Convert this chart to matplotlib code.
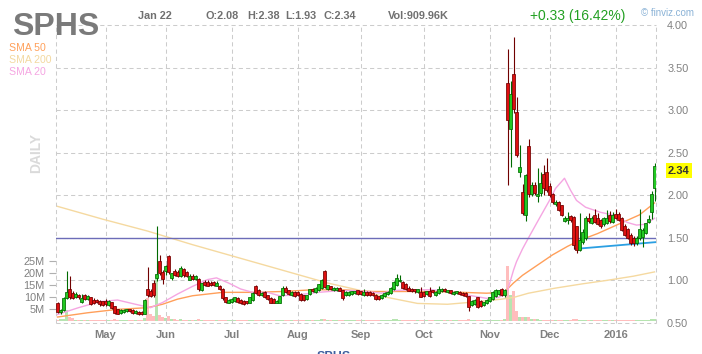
import matplotlib
matplotlib.use("Agg")
import matplotlib.pyplot as plt
import numpy as np
import pandas as pd

plt.rcParams['font.family'] = ['Liberation Sans', 'DejaVu Sans']

# ---------------- data ----------------
ticker = "SPHS"
holidays = ["2015-05-25", "2015-07-03", "2015-09-07", "2015-11-26",
            "2015-12-25", "2016-01-01", "2016-01-18"]
dates = pd.bdate_range("2015-04-09", "2016-01-22", freq="C", holidays=holidays)

opens = [.735, .63, .65, .79, .90, .85, .80, .83, .75, .82,
         .78, .80, .77, .77, .76, .75, .76, .71, .74, .69,
         .66, .62, .63, .64, .66, .65, .62, .63, .63, .61,
         .89, .87, .97, 1.03, 1.22, 1.09, 1.11, 1.28, 1.03, 1.11,
         1.10, 1.05, 1.13, 1.10, 1.01, 1.05, 1.02, 1.01, .89, .98,
         .98, .97, .98, .94, .93, .90, .80, .74, .75, .76,
         .79, .77, .76, .75, .74, .77, .93, .88, .83, .86,
         .82, .79, .78, .74, .74, .83, .91, .88, .83, .86,
         .86, .84, .82, .78, .84, .90, .86, .89, .91, 1.11,
         .90, .93, .89, .89, .91, .88, .83, .83, .84, .85,
         .88, .87, .83, .86, .86, .85, .83, .81, .79, .82,
         .84, .85, .90, .95, .99, .98, .95, .91, .90, .89,
         .86, .86, .86, .84, .87, .88, .83, .85, .87, .90,
         .86, .88, .84, .85, .86, .85, .85, .81, .71, .72,
         .80, .76, .71, .73, .76, .78, .82, .84, .89, .83,
         3.31, 2.78, 3.42, 2.98, 2.27, 2.04, 1.77, 2.58, 2.01, 2.12,
         1.99, 2.03, 2.25, 2.27, 2.10, 2.01, 1.90, 1.92, 1.88, 1.70,
         1.71, 1.75, 1.74, 1.63, 1.36, 1.45, 1.50, 1.73, 1.68, 1.77,
         1.73, 1.70, 1.66, 1.68, 1.77, 1.69, 1.78, 1.78, 1.73, 1.63,
         1.60, 1.53, 1.50, 1.44, 1.50, 1.51, 1.56, 1.69, 1.80, 2.08]

highs = [.75, .67, .80, 1.11, 1.05, .88, .86, .84, .84, .84,
         .83, .81, .79, .78, .77, .76, .78, .77, .75, .70,
         .67, .66, .66, .67, .67, .66, .65, .64, .64, .78,
         1.16, .90, 1.00, 1.64, 1.30, 1.12, 1.18, 1.30, 1.09, 1.13,
         1.12, 1.17, 1.15, 1.11, 1.08, 1.07, 1.06, 1.03, .97, 1.00,
         1.00, .99, .99, .99, .95, .91, .81, .78, .79, .81,
         .80, .78, .77, .76, .81, .86, .95, .90, .86, .88,
         .83, .80, .79, .77, .82, .93, .93, .89, .87, .87,
         .87, .85, .83, .83, .90, .91, .92, .96, 1.02, 1.12,
         .95, .94, .92, .92, .92, .89, .87, .87, .88, .88,
         .89, .88, .90, .87, .87, .86, .84, .82, .84, .86,
         .88, .92, .99, 1.08, 1.06, .99, .97, .93, .91, .90,
         .90, .92, .87, .88, .92, .89, .87, .94, .91, .91,
         .89, .89, .87, .88, .87, .86, .86, .82, .77, .78,
         .81, .77, .75, .78, .81, .87, .90, .89, .91, .90,
         3.72, 3.34, 3.86, 3.15, 2.59, 2.13, 2.25, 2.66, 2.16, 2.16,
         2.32, 2.27, 2.36, 2.44, 2.14, 2.03, 1.94, 1.93, 1.89, 1.76,
         1.80, 1.77, 1.76, 1.64, 1.79, 1.60, 1.76, 1.79, 1.76, 1.84,
         1.79, 1.72, 1.75, 1.83, 1.82, 1.80, 1.84, 1.80, 1.75, 1.66,
         1.62, 1.56, 1.52, 1.52, 1.84, 1.62, 1.68, 1.77, 2.05, 2.38]

lows = [.62, .61, .64, .78, .78, .78, .79, .78, .74, .77,
        .77, .71, .72, .73, .70, .70, .70, .70, .67, .61,
        .60, .61, .62, .63, .63, .61, .61, .59, .59, .60,
        .80, .80, .81, .99, 1.06, .96, 1.06, 1.08, 1.00, 1.05,
        1.04, 1.04, 1.04, 1.04, 1.00, 1.01, 1.00, .88, .88, .94,
        .93, .94, .94, .93, .89, .77, .74, .73, .74, .75,
        .74, .72, .71, .72, .73, .76, .84, .82, .82, .79,
        .77, .73, .73, .73, .73, .82, .85, .83, .82, .81,
        .82, .76, .76, .77, .83, .86, .85, .88, .90, .91,
        .89, .89, .88, .88, .87, .77, .82, .82, .83, .84,
        .83, .83, .82, .82, .82, .82, .77, .77, .78, .81,
        .83, .84, .89, .94, .98, .90, .89, .87, .86, .85,
        .85, .80, .81, .83, .80, .85, .82, .84, .86, .86,
        .85, .84, .83, .84, .83, .82, .81, .64, .70, .71,
        .68, .69, .70, .72, .75, .77, .81, .83, .82, .80,
        2.12, 2.33, 2.97, 2.45, 2.21, 1.77, 1.70, 1.98, 1.99, 2.00,
        1.92, 1.99, 2.00, 2.04, 1.98, 1.90, 1.88, 1.82, 1.76, 1.69,
        1.66, 1.69, 1.37, 1.32, 1.35, 1.43, 1.48, 1.68, 1.66, 1.68,
        1.65, 1.62, 1.64, 1.66, 1.68, 1.68, 1.72, 1.70, 1.58, 1.52,
        1.49, 1.42, 1.40, 1.42, 1.48, 1.39, 1.55, 1.67, 1.72, 1.93]

closes = [.63, .65, .79, .86, .80, .79, .84, .80, .79, .78,
          .81, .72, .74, .75, .72, .71, .72, .76, .68, .62,
          .61, .65, .65, .66, .64, .62, .64, .60, .60, .77,
          .83, .82, .83, 1.07, 1.09, 1.02, 1.16, 1.10, 1.08, 1.06,
          1.05, 1.14, 1.06, 1.05, 1.05, 1.02, 1.05, .90, .96, .95,
          .94, .95, .95, .96, .90, .79, .75, .77, .78, .80,
          .75, .73, .72, .73, .80, .85, .85, .83, .85, .80,
          .78, .74, .74, .76, .81, .91, .86, .84, .86, .82,
          .83, .77, .77, .82, .89, .87, .91, .95, 1.00, .92,
          .94, .90, .91, .91, .88, .79, .86, .86, .87, .87,
          .84, .84, .86, .83, .83, .83, .78, .78, .83, .85,
          .86, .91, .98, 1.02, 1.00, .91, .90, .88, .87, .87,
          .89, .81, .82, .87, .82, .86, .86, .90, .90, .87,
          .88, .85, .86, .87, .84, .83, .82, .69, .76, .77,
          .69, .70, .74, .77, .80, .86, .88, .88, .83, .88,
          2.88, 3.19, 3.01, 2.47, 2.33, 1.79, 2.24, 2.01, 2.12, 2.03,
          2.01, 2.14, 2.09, 2.06, 2.00, 1.92, 1.92, 1.83, 1.77, 1.73,
          1.73, 1.71, 1.42, 1.36, 1.47, 1.56, 1.73, 1.70, 1.73, 1.69,
          1.66, 1.64, 1.73, 1.73, 1.70, 1.77, 1.73, 1.71, 1.59, 1.53,
          1.50, 1.44, 1.44, 1.49, 1.60, 1.59, 1.67, 1.72, 2.01, 2.34]

volumes_m = [0.6, 0.8, 1.0, 4.6, 1.7, 1.2, 0.6, 0.5, 0.5, 0.4,
             0.4, 0.6, 0.4, 0.3, 0.4, 0.4, 0.5, 0.3, 0.6, 0.7,
             0.4, 0.3, 0.3, 0.3, 0.3, 0.3, 0.3, 0.3, 0.3, 1.2,
             9.5, 3.0, 2.0, 17.5, 2.5, 1.8, 1.2, 2.0, 1.0, 0.8,
             0.6, 0.7, 0.6, 0.5, 0.4, 0.4, 0.4, 0.8, 0.5, 0.4,
             0.4, 0.3, 0.3, 0.3, 0.3, 0.6, 0.5, 0.4, 0.4, 0.4,
             0.4, 0.3, 0.3, 0.3, 0.4, 0.5, 0.6, 0.4, 0.3, 0.4,
             0.3, 0.3, 0.3, 0.3, 0.4, 0.6, 0.5, 0.3, 0.3, 0.3,
             0.3, 0.4, 0.3, 0.3, 0.4, 0.3, 0.4, 0.5, 0.8, 1.0,
             0.5, 0.4, 0.3, 0.3, 0.3, 0.5, 0.3, 0.3, 0.3, 0.3,
             0.3, 0.3, 0.4, 0.3, 0.3, 0.3, 0.4, 0.3, 0.3, 0.4,
             0.4, 0.6, 1.0, 1.0, 0.6, 0.5, 0.4, 0.3, 0.3, 0.3,
             0.3, 0.5, 0.4, 0.3, 0.5, 0.3, 0.3, 0.4, 0.3, 0.3,
             0.3, 0.3, 0.3, 0.3, 0.3, 0.3, 0.3, 0.8, 0.5, 0.4,
             0.6, 0.4, 0.3, 0.4, 0.4, 0.6, 0.5, 0.4, 0.6, 0.8,
             23.0, 11.0, 12.5, 4.0, 1.8, 1.8, 1.7, 1.8, 0.8, 0.7,
             0.8, 0.6, 0.6, 0.6, 0.5, 0.4, 0.4, 0.4, 0.4, 0.3,
             0.3, 0.4, 0.8, 0.8, 0.6, 0.4, 0.4, 0.3, 0.3, 0.3,
             0.3, 0.3, 0.3, 0.3, 0.3, 0.3, 0.3, 0.3, 0.4, 0.4,
             0.4, 0.5, 0.4, 0.3, 0.4, 0.4, 0.4, 0.5, 0.7, 0.91]

# moving averages at sample days (index of trading day)
sma20_day = [0, 7, 14, 20, 26, 31, 35, 40, 45, 50, 53, 57, 61, 65, 70, 74, 80, 87,
             94, 100, 108, 112, 117, 125, 132, 138, 143, 147, 149, 150, 151, 152,
             153, 155, 157, 160, 164, 166, 169, 171, 173, 176, 181, 185, 190, 193,
             196, 199]
sma20_val = [0.60, 0.68, 0.75, 0.77, 0.72, 0.68, 0.74, 0.84, 0.93, 1.01, 1.03, 0.97,
             0.90, 0.86, 0.86, 0.82, 0.83, 0.86, 0.88, 0.88, 0.85, 0.88, 0.89, 0.89,
             0.86, 0.82, 0.79, 0.80, 0.84, 0.88, 1.00, 1.12, 1.22, 1.37, 1.50, 1.69,
             1.94, 2.08, 2.20, 2.06, 1.94, 1.86, 1.80, 1.77, 1.68, 1.65, 1.66, 1.73]
sma50_day = [0, 10, 20, 30, 35, 40, 45, 50, 55, 65, 75, 85, 95, 105, 115, 125, 135,
             143, 149, 150, 152, 155, 160, 165, 170, 174, 180, 187, 194, 199]
sma50_val = [0.57, 0.62, 0.66, 0.68, 0.72, 0.78, 0.82, 0.84, 0.86, 0.86, 0.87, 0.89,
             0.89, 0.87, 0.87, 0.87, 0.86, 0.85, 0.86, 0.90, 0.97, 1.06, 1.18, 1.30,
             1.40, 1.47, 1.55, 1.66, 1.77, 1.91]
sma200_day = [0, 15, 30, 45, 60, 75, 90, 100, 110, 120, 130, 140, 148, 152, 157,
              166, 175, 183, 192, 199]
sma200_val = [1.87, 1.72, 1.58, 1.42, 1.27, 1.12, 0.97, 0.89, 0.80, 0.73, 0.72, 0.75,
              0.78, 0.80, 0.85, 0.91, 0.96, 1.00, 1.05, 1.10]

resistance_level = 1.50
trend_day = [172.5, 199.5]
trend_val = [1.37, 1.45]

price_ticks = [0.5, 1.0, 1.5, 2.0, 2.5, 3.0, 3.5, 4.0]
vol_ticks = [5, 10, 15, 20, 25]

# ---------------- figure ----------------
W, H = 702, 354
fig = plt.figure(figsize=(W / 100, H / 100), dpi=100)
fig.patch.set_facecolor("white")

def fx(x):
    return x / W

def fy(y):
    return 1 - y / H

ax = fig.add_axes([fx(56), fy(323), 600 / W, 298 / H])
axv = ax.twinx()
ax.set_zorder(2)
axv.set_zorder(1)
ax.patch.set_visible(False)

n = len(closes)
idx = np.arange(n)
o = np.array(opens); c = np.array(closes)
h = np.array(highs); l = np.array(lows)
up = c >= o

ax.set_xlim(-0.5, n - 0.5)
ax.set_ylim(0.5, 4.0)
axv.set_ylim(-0.8, 298 / 2.4 - 0.8)

for a in (ax, axv):
    for s in a.spines.values():
        s.set_visible(False)

grid_kw = dict(color="#cccccc", lw=0.75, ls=(0, (4, 3)), zorder=0, clip_on=False)
for p in price_ticks:
    ax.axhline(p, **grid_kw)

# month boundaries
month_pos, month_lab = [], []
for i in range(1, n):
    if dates[i].month != dates[i - 1].month:
        month_pos.append(i)
        month_lab.append(str(dates[i].year) if dates[i].month == 1 else dates[i].strftime("%b"))
for mp in month_pos:
    ax.axvline(mp, **grid_kw)
ax.axvline(-0.5, **grid_kw)
ax.axvline(n - 0.5, **grid_kw)

# volume
vcol = np.where(up, "#b6e4b0", "#ffbdbd")
axv.bar(idx, volumes_m, width=1.0, color=vcol, linewidth=0, zorder=1)
axv.set_yticks(vol_ticks)
axv.set_yticklabels([f"{v}M" for v in vol_ticks])
axv.yaxis.tick_left()
axv.tick_params(axis="y", colors="#b0b0b0", length=5, width=0.8, pad=3,
                labelsize=7.8, labelcolor="#808080")
axv.set_xticks([])

# moving averages & lines
ax.plot(sma200_day, sma200_val, color="#f5d9a0", lw=1.0, zorder=1)
ax.plot(sma50_day, sma50_val, color="#ff9f5a", lw=1.0, zorder=1)
ax.plot(sma20_day, sma20_val, color="#f5a6e2", lw=1.0, zorder=1)
ax.axhline(resistance_level, color="#6c6cb8", lw=1.0, zorder=2)
ax.plot(trend_day, trend_val, color="#2b9fe2", lw=1.3, zorder=2)

# candles
wick_col = np.where(up, "#006a00", "#700000")
body_col = np.where(up, "#22c822", "#dd1010")
ax.vlines(idx, l, h, colors=wick_col, lw=0.8, zorder=3)
ax.bar(idx, np.abs(c - o) + 0.004, bottom=np.minimum(o, c), width=0.74,
       color=body_col, edgecolor=wick_col, linewidth=0.55, zorder=4)

# axis ticks
ax.yaxis.tick_right()
ax.set_yticks(price_ticks)
ax.set_yticklabels([f"{p:.2f}" for p in price_ticks])
ax.tick_params(axis="y", length=0, pad=8, labelsize=7.8, labelcolor="#808080")
ax.set_xticks(month_pos)
ax.set_xticklabels(month_lab)
ax.tick_params(axis="x", length=0, pad=5, labelsize=8, labelcolor="#808080")
for t in ax.get_xticklabels():
    t.set_fontweight("bold")

# last price label
ax.annotate(f"{closes[-1]:.2f}", xy=(1, closes[-1]), xycoords=ax.get_yaxis_transform(),
            xytext=(8.5, -3), textcoords="offset points", ha="left", va="center",
            fontsize=8, fontweight="bold", color="#333333",
            bbox=dict(boxstyle="square,pad=0.2", fc="#ffff00", ec="none"))

# header texts
fig.text(fx(12), fy(35), ticker, fontsize=23, fontweight="bold", color="#7a7a7a",
         ha="left", va="baseline")
hdr = dict(fontsize=7.8, fontweight="bold", color="#707070", ha="left", va="baseline")
fig.text(fx(138), fy(19), "Jan 22", **hdr)
fig.text(fx(205), fy(19), f"O:{opens[-1]:.2f}", **hdr)
fig.text(fx(247), fy(19), f"H:{highs[-1]:.2f}", **hdr)
fig.text(fx(285), fy(19), f"L:{lows[-1]:.2f}", **hdr)
fig.text(fx(323), fy(19), f"C:{closes[-1]:.2f}", **hdr)
fig.text(fx(388), fy(19), "Vol:909.96K", **hdr)
chg = closes[-1] - closes[-2]
fig.text(fx(530), fy(20), f"+{chg:.2f} ({chg / closes[-2] * 100:.2f}%)", fontsize=10,
         color="#22a022", ha="left", va="baseline")
fig.text(fx(641), fy(16.5), "\u00a9 finviz.com", fontsize=7, color="#8ab2d6",
         ha="left", va="baseline")

fig.text(fx(9), fy(51), "SMA 50", fontsize=7.6, color="#ffa05a", ha="left", va="baseline")
fig.text(fx(9), fy(63), "SMA 200", fontsize=7.6, color="#f3d9a0", ha="left", va="baseline")
fig.text(fx(9), fy(75), "SMA 20", fontsize=7.6, color="#f5a6e2", ha="left", va="baseline")
fig.text(fx(36), fy(153), "DAILY", fontsize=10, fontweight="bold", color="#dadada",
         rotation=90, ha="center", va="center")
# ticker caption at the bottom edge, mostly cut off as in the source image
fig.text(fx(317), fy(360.5), ticker, fontsize=9, fontweight="bold", color="#3f5f9f",
         ha="left", va="baseline")

fig.savefig("out.png", dpi=100, facecolor="white")
